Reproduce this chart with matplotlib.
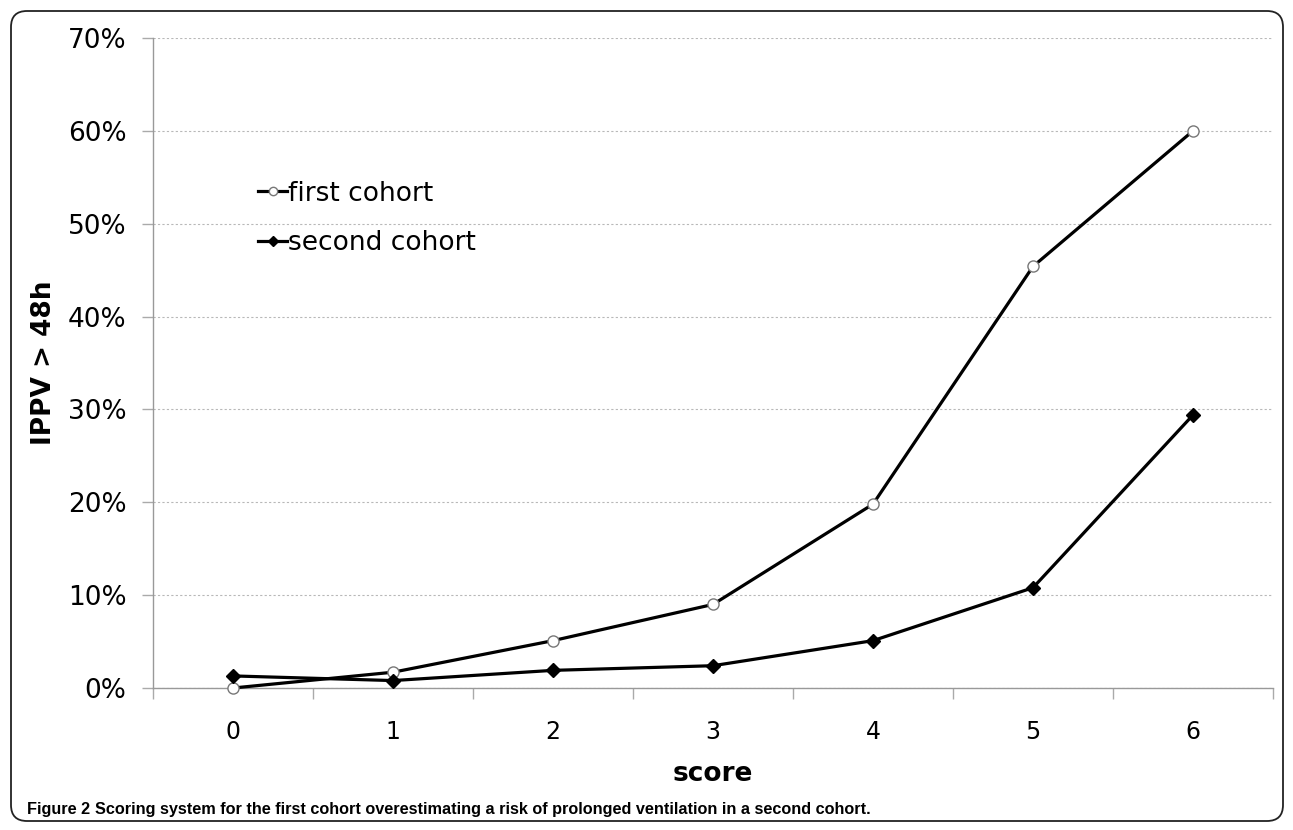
import numpy as np
import matplotlib
matplotlib.use("Agg")
import matplotlib.pyplot as plt
from matplotlib.lines import Line2D
from matplotlib.patches import FancyBboxPatch
from matplotlib.transforms import IdentityTransform
from matplotlib.ticker import FixedLocator, FuncFormatter

# Data
scores = [0, 1, 2, 3, 4, 5, 6]
first_cohort = [0.0, 1.7, 5.1, 9.0, 19.8, 45.4, 60.0]
second_cohort = [1.3, 0.8, 1.9, 2.4, 5.1, 10.8, 29.4]
y_ticks = [0, 10, 20, 30, 40, 50, 60, 70]

plt.rcParams['font.family'] = ['DejaVu Sans']

fig = plt.figure(figsize=(12.93, 8.30), dpi=100)
ax = fig.add_axes([153 / 1293, 142 / 830, 1120 / 1293, 650 / 830])

# Lines
ax.plot(scores, first_cohort, color='black', lw=2.3, marker='o', ms=8,
        mfc='white', mec='#777777', mew=1.0, zorder=3, clip_on=False)
ax.plot(scores, second_cohort, color='black', lw=2.3, marker='D', ms=7,
        mfc='black', mec='black', zorder=3, clip_on=False)

ax.set_xlim(-0.5, 6.5)
ax.set_ylim(0, 70)

# Category axis: ticks between categories, labels at categories
ax.xaxis.set_major_locator(FixedLocator(np.arange(-0.5, 7, 1)))
ax.xaxis.set_major_formatter(FuncFormatter(lambda v, p: ''))
ax.xaxis.set_minor_locator(FixedLocator(scores))
ax.xaxis.set_minor_formatter(FuncFormatter(lambda v, p: '%d' % v))
ax.tick_params(axis='x', which='major', length=8, width=1, color='#aaaaaa', direction='out')
ax.tick_params(axis='x', which='minor', length=0, pad=23, labelsize=17)

ax.set_yticks(y_ticks)
ax.yaxis.set_major_formatter(FuncFormatter(lambda v, p: '%d%%' % v))
ax.tick_params(axis='y', length=8, width=1, color='#aaaaaa', direction='out', pad=11, labelsize=19)

ax.grid(axis='y', color='#b8b8b8', lw=0.8, ls=(0, (2, 2)))
ax.set_axisbelow(True)
for s in ['top', 'right']:
    ax.spines[s].set_visible(False)
for s in ['left', 'bottom']:
    ax.spines[s].set_color('#999999')
    ax.spines[s].set_linewidth(1)

ax.set_xlabel('score', fontsize=19, fontweight='bold', labelpad=12)
ax.set_ylabel('IPPV > 48h', fontsize=19, fontweight='bold', labelpad=8)

handles = [
    Line2D([], [], color='black', lw=2.3, marker='o', ms=6, mfc='white', mec='#777777', mew=1.0),
    Line2D([], [], color='black', lw=2.3, marker='D', ms=5.5, mfc='black', mec='black'),
]
ax.legend(handles, ['first cohort', 'second cohort'], loc='upper left',
          bbox_to_anchor=(0.082, 0.801), frameon=False, fontsize=19,
          handlelength=1.1, handletextpad=0.05, labelspacing=0.9, borderpad=0)

# Caption, sized so that it spans the same width as in the original
cap_font = ['Liberation Sans', 'DejaVu Sans']
cap_head = 'Figure 2'
cap_body = 'Scoring system for the first cohort overestimating a risk of prolonged ventilation in a second cohort.'
t1 = fig.text(27 / 1293, 16 / 830, cap_head, fontsize=12, fontweight='bold',
              family=cap_font, va='baseline')
t2 = fig.text(0, 16 / 830, cap_body, fontsize=12, fontweight='bold',
              family=cap_font, va='baseline')
fig.canvas.draw()
r = fig.canvas.get_renderer()
total = t1.get_window_extent(r).width + t2.get_window_extent(r).width + 5
size = 12 * 838 / total
t1.set_fontsize(size)
t2.set_fontsize(size)
fig.canvas.draw()
bb = t1.get_window_extent(r)
t2.set_x((bb.x1 + 5) / 1293)

# Rounded border around the figure
border = FancyBboxPatch((11, 9), 1272, 810, boxstyle='round,pad=0,rounding_size=16',
                        transform=IdentityTransform(), fill=False, ec='#222222', lw=1.3)
fig.patches.append(border)

fig.savefig('out.png', dpi=100)
